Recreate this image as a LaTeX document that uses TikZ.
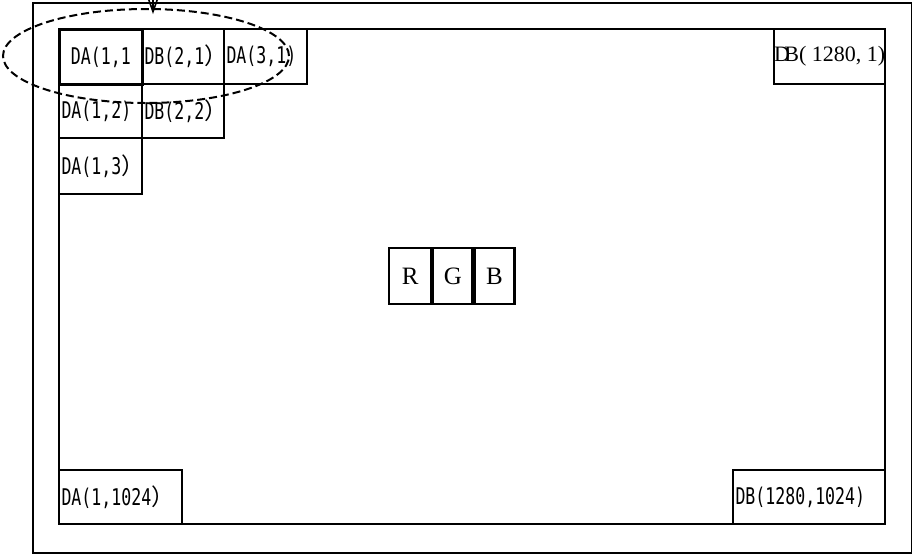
\documentclass[tikz,border=0pt]{standalone}
\usepackage{fontspec}
\usetikzlibrary{shapes.geometric, arrows.meta}
\newfontfamily\monofont[FakeStretch=0.72]{DejaVu Sans Mono}
\newfontfamily\cjk{Noto Sans CJK SC}
\newfontfamily\serifont{Liberation Serif}
\newcommand{\fwp}{{\cjk ）}}
\tikzset{
	frame/.style={draw, line width=1.1pt, anchor=north west, inner sep=0pt},
	cell/.style={draw, line width=1.1pt, anchor=north west, inner xsep=1.2pt, inner ysep=0pt,
		align=left, font=\monofont\fontsize{11.5}{13}\selectfont},
	colour/.style={draw, line width=1.1pt, anchor=north west, inner sep=0pt,
		minimum height=28pt, font=\serifont\fontsize{12.5}{14}\selectfont}
}
\begin{document}
\begin{tikzpicture}[x=0.5pt, y=-0.5pt]
	\useasboundingbox (0,0) rectangle (912,553);

	% display and frame
	\node[frame, line width=0.75pt, minimum width=439.5pt, minimum height=275pt] (panel) at (32,2) {};
	\node[frame, minimum width=413pt, minimum height=247.5pt] (screen) at (58,28) {};

	% pixels of the first rows
	\node[cell, line width=1.4pt, text width=39.1pt, minimum height=27.5pt, align=center] (da11) at (58,28) {DA(1,1};
	\node[cell, text width=38.6pt, minimum height=27.5pt] (db21) at (141,28) {DB(2,1\fwp};
	\node[cell, text width=39.1pt, minimum height=27.5pt] (da31) at (223,28) {DA(3,1)};
	\node[cell, text width=39.1pt, minimum height=27pt] (da12) at (58,83) {DA(1,2)};
	\node[cell, text width=38.6pt, minimum height=27pt] (db22) at (141,83) {DB(2,2\fwp};
	\node[cell, text width=39.1pt, minimum height=28pt] (da13) at (58,137) {DA(1,3\fwp};

	% corner pixels
	\node[cell, minimum width=55.5pt, minimum height=27.5pt, inner xsep=0pt, font=\serifont\fontsize{11}{12}\selectfont] (db1280) at (773,28) {D\kern-.25em B( 1280, 1)};
	\node[cell, text width=59.1pt, minimum height=27pt] (da1024) at (58,469) {DA(1,1024\fwp};
	\node[cell, text width=73.6pt, minimum height=27pt] (dblast) at (732,469) {DB(1280,1024)};

	% sub-pixels
	\node[colour, minimum width=21pt] (r) at (388,247) {R};
	\node[colour, minimum width=19.5pt] (g) at (r.north east) {G};
	\node[colour, minimum width=20pt] (b) at (g.north east) {B};

	% scan start
	\node[ellipse, draw, dash pattern=on 4pt off 2pt, line width=1pt, inner sep=0pt, minimum width=143pt, minimum height=47pt] (start) at (146,56) {};
	\coordinate (from) at (153,-6);
	\coordinate (to) at (153,14);
	\draw[line width=0.8pt, -{Straight Barb[length=7pt, width=5pt]}] (from) -- (to);
\end{tikzpicture}
\end{document}
